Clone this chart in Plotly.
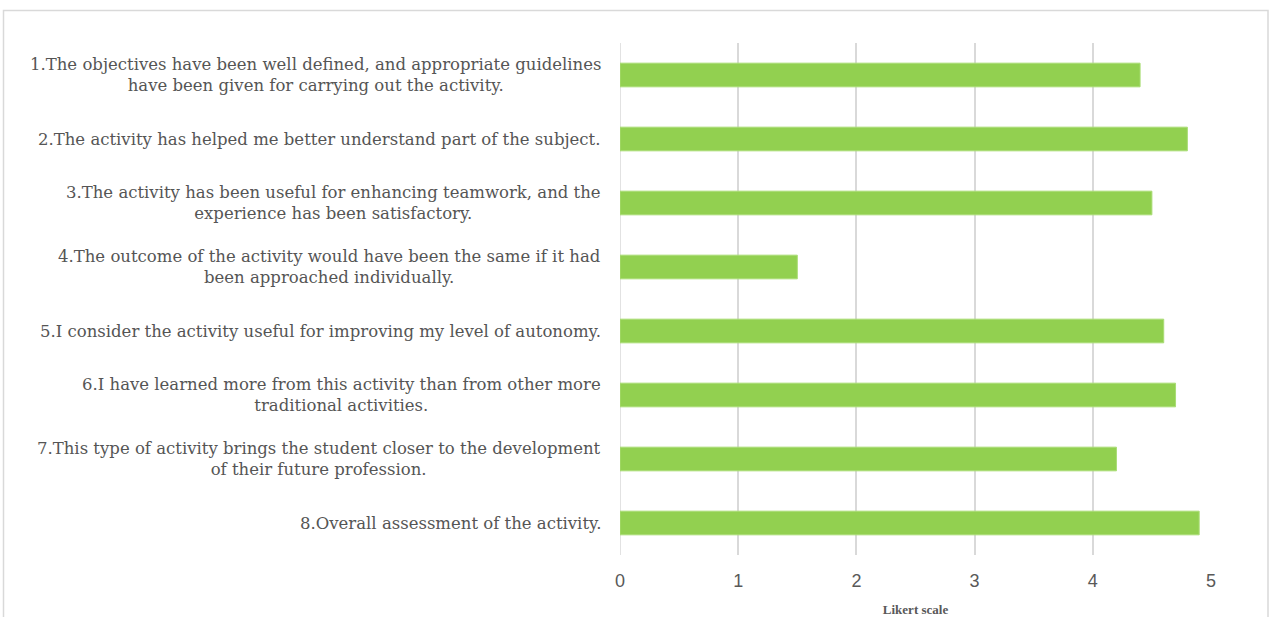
import plotly.graph_objects as go

items = [
    "1.The objectives have been well defined, and appropriate guidelines<br>have been given for carrying out the activity.",
    "2.The activity has helped me better understand part of the subject.",
    "3.The activity has been useful for enhancing teamwork, and the<br>experience has been satisfactory.",
    "4.The outcome of the activity would have been the same if it had<br>been approached individually.",
    "5.I consider the activity useful for improving my level of autonomy.",
    "6.I have learned more from this activity than from other more<br>traditional activities.",
    "7.This type of activity brings the student closer to the development<br>of their future profession.",
    "8.Overall assessment of the activity.",
]
positions = [1, 2, 3, 4, 5, 6, 7, 8]
scores = [4.4, 4.8, 4.5, 1.5, 4.6, 4.7, 4.2, 4.9]
x_ticks = [0, 1, 2, 3, 4, 5]

W, H = 1272, 617
L, R, T, B = 620, 61, 43, 62
pw, ph = W - L - R, H - T - B

fig = go.Figure(go.Bar(
    x=scores, y=positions, orientation="h",
    marker=dict(color="#92D050", line=dict(color="#a9dc74", width=1)),
    width=0.37, hoverinfo="x+y",
))

for p, t in zip(positions, items):
    fig.add_annotation(x=0, xref="paper", y=p, yref="y", text=t, showarrow=False,
                       xanchor="right", yanchor="middle", align="center", xshift=-17,
                       font=dict(family="DejaVu Serif", size=16.5, color="#555555"))

def px2x(px):
    return (px - L) / pw

def px2y(py):
    return (H - B - py) / ph

fig.add_shape(type="rect", xref="paper", yref="paper",
              x0=px2x(3.5), x1=px2x(1268), y0=px2y(640), y1=px2y(10.5),
              line=dict(color="#d9d9d9", width=1.5), layer="below")

fig.update_layout(
    width=W, height=H,
    margin=dict(l=L, r=R, t=T, b=B, autoexpand=False),
    paper_bgcolor="white", plot_bgcolor="white",
    showlegend=False,
    xaxis=dict(range=[0, 5.0], tickvals=x_ticks, showgrid=True, gridcolor="#d9d9d9", gridwidth=1.5,
               zeroline=False, showline=False, ticks="", ticklabelstandoff=13, automargin=False,
               tickfont=dict(family="Liberation Sans", size=18, color="#595959"),
               title=dict(text="<b>Likert scale</b>", standoff=14,
                          font=dict(family="Liberation Serif", size=13, color="#595959"))),
    yaxis=dict(range=[8.5, 0.5], showticklabels=False, showgrid=False, zeroline=False,
               showline=False, ticks="", automargin=False),
)
fig.add_vline(x=0, line=dict(color="#d9d9d9", width=1.5), layer="below")
fig.write_html("out.html", config={"displayModeBar": False},
               post_script="document.body.style.margin='0';")
